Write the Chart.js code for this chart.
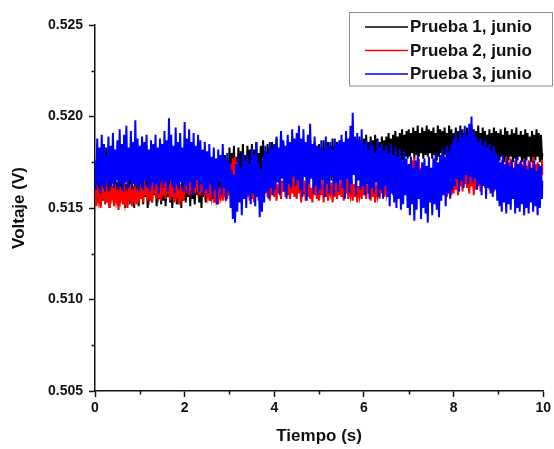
<!DOCTYPE html>
<html>
<head>
<meta charset="utf-8">
<script src="https://cdn.jsdelivr.net/npm/chart.js@4.4.1/dist/chart.umd.min.js"></script>
<style>
  html, body { margin: 0; padding: 0; background: #fff; }
  #wrap { width: 554px; height: 449px; position: relative; }
</style>
</head>
<body>
<div id="wrap"><canvas id="c" width="554" height="449"></canvas></div>
<script>
// Voltage readings, sampled every 0.025 s over 10 s
const FONT = '"Liberation Sans", Arial, Helvetica, sans-serif';
const etiquetas = ['Prueba 1, junio', 'Prueba 2, junio', 'Prueba 3, junio'];
const colores = ['#000000', '#ff0000', '#0000ff'];
const pasoTiempo = 0.025;

const prueba1 = [
  0.5165, 0.5152, 0.5168, 0.5155, 0.5170, 0.5151, 0.5163, 0.5154, 0.5169, 0.5157,
  0.5183, 0.5153, 0.5166, 0.5150, 0.5171, 0.5156, 0.5162, 0.5152, 0.5167, 0.5155,
  0.5164, 0.5151, 0.5170, 0.5156, 0.5166, 0.5153, 0.5172, 0.5150, 0.5163, 0.5155,
  0.5168, 0.5152, 0.5171, 0.5157, 0.5162, 0.5150, 0.5169, 0.5154, 0.5166, 0.5151,
  0.5170, 0.5155, 0.5164, 0.5152, 0.5172, 0.5156, 0.5167, 0.5150, 0.5163, 0.5154,
  0.5171, 0.5153, 0.5165, 0.5157, 0.5169, 0.5151, 0.5164, 0.5155, 0.5170, 0.5152,
  0.5166, 0.5154, 0.5172, 0.5151, 0.5163, 0.5156, 0.5170, 0.5153, 0.5168, 0.5150,
  0.5165, 0.5155, 0.5171, 0.5152, 0.5167, 0.5157, 0.5162, 0.5150, 0.5169, 0.5154,
  0.5172, 0.5153, 0.5165, 0.5156, 0.5170, 0.5151, 0.5171, 0.5155, 0.5166, 0.5152,
  0.5169, 0.5157, 0.5164, 0.5153, 0.5172, 0.5150, 0.5168, 0.5156, 0.5165, 0.5153,
  0.5172, 0.5156, 0.5169, 0.5154, 0.5175, 0.5158, 0.5171, 0.5153, 0.5177, 0.5157,
  0.5170, 0.5155, 0.5176, 0.5160, 0.5173, 0.5156, 0.5179, 0.5159, 0.5174, 0.5157,
  0.5183, 0.5163, 0.5180, 0.5165, 0.5184, 0.5161, 0.5178, 0.5166, 0.5183, 0.5162,
  0.5181, 0.5167, 0.5185, 0.5164, 0.5179, 0.5162, 0.5184, 0.5166, 0.5182, 0.5163,
  0.5185, 0.5165, 0.5182, 0.5167, 0.5186, 0.5163, 0.5180, 0.5168, 0.5184, 0.5165,
  0.5187, 0.5166, 0.5181, 0.5164, 0.5185, 0.5169, 0.5183, 0.5165, 0.5186, 0.5167,
  0.5184, 0.5166, 0.5188, 0.5168, 0.5182, 0.5165, 0.5191, 0.5169, 0.5186, 0.5167,
  0.5183, 0.5170, 0.5187, 0.5166, 0.5185, 0.5168, 0.5189, 0.5165, 0.5184, 0.5169,
  0.5182, 0.5165, 0.5186, 0.5168, 0.5183, 0.5164, 0.5187, 0.5169, 0.5181, 0.5166,
  0.5185, 0.5163, 0.5188, 0.5167, 0.5182, 0.5165, 0.5186, 0.5168, 0.5184, 0.5166,
  0.5185, 0.5167, 0.5183, 0.5165, 0.5187, 0.5169, 0.5182, 0.5166, 0.5186, 0.5168,
  0.5184, 0.5165, 0.5188, 0.5170, 0.5183, 0.5167, 0.5186, 0.5166, 0.5185, 0.5169,
  0.5187, 0.5168, 0.5184, 0.5171, 0.5188, 0.5167, 0.5185, 0.5170, 0.5189, 0.5168,
  0.5184, 0.5172, 0.5187, 0.5169, 0.5186, 0.5171, 0.5189, 0.5168, 0.5185, 0.5170,
  0.5188, 0.5171, 0.5190, 0.5173, 0.5186, 0.5170, 0.5189, 0.5174, 0.5187, 0.5172,
  0.5190, 0.5171, 0.5188, 0.5173, 0.5186, 0.5170, 0.5189, 0.5174, 0.5187, 0.5172,
  0.5189, 0.5173, 0.5191, 0.5175, 0.5188, 0.5172, 0.5190, 0.5176, 0.5192, 0.5174,
  0.5189, 0.5177, 0.5191, 0.5175, 0.5193, 0.5176, 0.5190, 0.5178, 0.5192, 0.5177,
  0.5193, 0.5178, 0.5191, 0.5180, 0.5194, 0.5177, 0.5192, 0.5179, 0.5195, 0.5178,
  0.5191, 0.5180, 0.5194, 0.5177, 0.5192, 0.5179, 0.5195, 0.5178, 0.5193, 0.5180,
  0.5192, 0.5177, 0.5194, 0.5179, 0.5191, 0.5176, 0.5195, 0.5178, 0.5193, 0.5180,
  0.5192, 0.5177, 0.5194, 0.5179, 0.5191, 0.5178, 0.5195, 0.5177, 0.5193, 0.5179,
  0.5191, 0.5178, 0.5194, 0.5176, 0.5192, 0.5179, 0.5195, 0.5177, 0.5193, 0.5178,
  0.5191, 0.5180, 0.5194, 0.5177, 0.5192, 0.5179, 0.5195, 0.5176, 0.5193, 0.5178,
  0.5192, 0.5177, 0.5195, 0.5179, 0.5191, 0.5176, 0.5194, 0.5178, 0.5192, 0.5177,
  0.5190, 0.5179, 0.5193, 0.5176, 0.5191, 0.5178, 0.5194, 0.5177, 0.5192, 0.5175,
  0.5191, 0.5176, 0.5193, 0.5178, 0.5190, 0.5175, 0.5194, 0.5177, 0.5192, 0.5176,
  0.5190, 0.5178, 0.5193, 0.5175, 0.5191, 0.5177, 0.5194, 0.5176, 0.5190, 0.5178,
  0.5192, 0.5175, 0.5190, 0.5177, 0.5193, 0.5176, 0.5191, 0.5178, 0.5189, 0.5175,
  0.5192, 0.5177, 0.5190, 0.5176, 0.5193, 0.5178, 0.5191, 0.5175, 0.5190, 0.5177,
  0.5180
];

const prueba2 = [
  0.5160, 0.5151, 0.5163, 0.5154, 0.5158, 0.5150, 0.5164, 0.5155, 0.5161, 0.5152,
  0.5165, 0.5153, 0.5159, 0.5150, 0.5162, 0.5156, 0.5160, 0.5151, 0.5163, 0.5154,
  0.5158, 0.5149, 0.5162, 0.5155, 0.5160, 0.5152, 0.5164, 0.5153, 0.5157, 0.5150,
  0.5161, 0.5154, 0.5163, 0.5151, 0.5159, 0.5155, 0.5162, 0.5152, 0.5158, 0.5153,
  0.5163, 0.5155, 0.5161, 0.5153, 0.5166, 0.5157, 0.5162, 0.5154, 0.5165, 0.5156,
  0.5160, 0.5153, 0.5167, 0.5158, 0.5163, 0.5155, 0.5166, 0.5157, 0.5161, 0.5154,
  0.5165, 0.5157, 0.5162, 0.5155, 0.5167, 0.5158, 0.5163, 0.5154, 0.5166, 0.5156,
  0.5161, 0.5153, 0.5164, 0.5157, 0.5160, 0.5152, 0.5163, 0.5155, 0.5159, 0.5154,
  0.5162, 0.5170, 0.5158, 0.5164, 0.5157, 0.5166, 0.5160, 0.5165, 0.5158, 0.5167,
  0.5161, 0.5164, 0.5159, 0.5166, 0.5157, 0.5163, 0.5160, 0.5168, 0.5158, 0.5162,
  0.5157, 0.5164, 0.5154, 0.5161, 0.5156, 0.5163, 0.5153, 0.5160, 0.5155, 0.5162,
  0.5152, 0.5159, 0.5156, 0.5164, 0.5154, 0.5161, 0.5157, 0.5165, 0.5155, 0.5162,
  0.5166, 0.5174, 0.5165, 0.5177, 0.5164, 0.5178, 0.5166, 0.5175, 0.5163, 0.5172,
  0.5160, 0.5168, 0.5157, 0.5165, 0.5155, 0.5163, 0.5156, 0.5162, 0.5154, 0.5161,
  0.5155, 0.5163, 0.5153, 0.5161, 0.5156, 0.5165, 0.5154, 0.5162, 0.5157, 0.5166,
  0.5155, 0.5163, 0.5158, 0.5167, 0.5156, 0.5162, 0.5154, 0.5164, 0.5157, 0.5165,
  0.5156, 0.5164, 0.5154, 0.5163, 0.5158, 0.5167, 0.5155, 0.5165, 0.5159, 0.5168,
  0.5156, 0.5164, 0.5157, 0.5166, 0.5155, 0.5163, 0.5158, 0.5167, 0.5156, 0.5165,
  0.5155, 0.5166, 0.5158, 0.5164, 0.5153, 0.5162, 0.5157, 0.5165, 0.5154, 0.5163,
  0.5156, 0.5167, 0.5155, 0.5161, 0.5153, 0.5164, 0.5157, 0.5166, 0.5155, 0.5162,
  0.5154, 0.5163, 0.5157, 0.5165, 0.5153, 0.5162, 0.5156, 0.5166, 0.5154, 0.5161,
  0.5158, 0.5164, 0.5153, 0.5162, 0.5156, 0.5167, 0.5155, 0.5163, 0.5157, 0.5165,
  0.5156, 0.5164, 0.5154, 0.5163, 0.5158, 0.5167, 0.5155, 0.5161, 0.5157, 0.5166,
  0.5154, 0.5163, 0.5156, 0.5165, 0.5153, 0.5162, 0.5157, 0.5164, 0.5155, 0.5163,
  0.5157, 0.5165, 0.5155, 0.5163, 0.5158, 0.5166, 0.5154, 0.5162, 0.5156, 0.5164,
  0.5153, 0.5161, 0.5157, 0.5165, 0.5155, 0.5163, 0.5158, 0.5167, 0.5156, 0.5162,
  0.5158, 0.5166, 0.5156, 0.5164, 0.5159, 0.5168, 0.5157, 0.5166, 0.5160, 0.5170,
  0.5158, 0.5167, 0.5161, 0.5171, 0.5159, 0.5169, 0.5162, 0.5173, 0.5160, 0.5171,
  0.5163, 0.5174, 0.5161, 0.5176, 0.5165, 0.5178, 0.5162, 0.5175, 0.5166, 0.5177,
  0.5161, 0.5172, 0.5163, 0.5174, 0.5160, 0.5171, 0.5164, 0.5173, 0.5161, 0.5169,
  0.5159, 0.5170, 0.5157, 0.5168, 0.5160, 0.5172, 0.5158, 0.5167, 0.5161, 0.5171,
  0.5157, 0.5166, 0.5159, 0.5169, 0.5156, 0.5165, 0.5158, 0.5168, 0.5157, 0.5166,
  0.5158, 0.5168, 0.5160, 0.5170, 0.5157, 0.5167, 0.5162, 0.5172, 0.5159, 0.5171,
  0.5163, 0.5173, 0.5161, 0.5172, 0.5158, 0.5169, 0.5162, 0.5170, 0.5157, 0.5166,
  0.5160, 0.5172, 0.5162, 0.5175, 0.5159, 0.5177, 0.5163, 0.5174, 0.5161, 0.5171,
  0.5164, 0.5176, 0.5160, 0.5173, 0.5162, 0.5175, 0.5159, 0.5170, 0.5163, 0.5172,
  0.5161, 0.5174, 0.5163, 0.5176, 0.5160, 0.5173, 0.5165, 0.5178, 0.5162, 0.5175,
  0.5166, 0.5177, 0.5161, 0.5172, 0.5164, 0.5176, 0.5160, 0.5173, 0.5163, 0.5175,
  0.5162, 0.5174, 0.5164, 0.5177, 0.5161, 0.5173, 0.5165, 0.5176, 0.5163, 0.5172,
  0.5166, 0.5178, 0.5162, 0.5174, 0.5164, 0.5175, 0.5161, 0.5173, 0.5165, 0.5176,
  0.5168
];

const prueba3 = [
  0.5176, 0.5160, 0.5188, 0.5163, 0.5183, 0.5158, 0.5190, 0.5162, 0.5185, 0.5159,
  0.5179, 0.5164, 0.5189, 0.5160, 0.5184, 0.5163, 0.5191, 0.5161, 0.5182, 0.5165,
  0.5187, 0.5160, 0.5193, 0.5163, 0.5185, 0.5159, 0.5190, 0.5164, 0.5195, 0.5161,
  0.5183, 0.5165, 0.5192, 0.5160, 0.5186, 0.5163, 0.5198, 0.5162, 0.5188, 0.5159,
  0.5184, 0.5163, 0.5189, 0.5160, 0.5186, 0.5165, 0.5190, 0.5161, 0.5182, 0.5159,
  0.5187, 0.5164, 0.5185, 0.5160, 0.5190, 0.5163, 0.5183, 0.5158, 0.5188, 0.5165,
  0.5185, 0.5161, 0.5192, 0.5164, 0.5187, 0.5159, 0.5199, 0.5165, 0.5190, 0.5162,
  0.5184, 0.5158, 0.5194, 0.5163, 0.5186, 0.5160, 0.5191, 0.5164, 0.5183, 0.5159,
  0.5197, 0.5162, 0.5188, 0.5158, 0.5193, 0.5164, 0.5186, 0.5157, 0.5191, 0.5161,
  0.5184, 0.5165, 0.5190, 0.5159, 0.5187, 0.5163, 0.5182, 0.5157, 0.5186, 0.5160,
  0.5181, 0.5158, 0.5185, 0.5163, 0.5178, 0.5155, 0.5183, 0.5160, 0.5176, 0.5152,
  0.5182, 0.5164, 0.5179, 0.5157, 0.5185, 0.5161, 0.5177, 0.5154, 0.5180, 0.5159,
  0.5175, 0.5150, 0.5171, 0.5144, 0.5168, 0.5142, 0.5174, 0.5148, 0.5178, 0.5153,
  0.5172, 0.5146, 0.5180, 0.5155, 0.5176, 0.5150, 0.5179, 0.5157, 0.5174, 0.5152,
  0.5183, 0.5158, 0.5179, 0.5151, 0.5186, 0.5156, 0.5175, 0.5145, 0.5171, 0.5148,
  0.5178, 0.5153, 0.5184, 0.5159, 0.5180, 0.5155, 0.5186, 0.5161, 0.5182, 0.5157,
  0.5185, 0.5160, 0.5189, 0.5164, 0.5183, 0.5157, 0.5192, 0.5166, 0.5187, 0.5159,
  0.5184, 0.5155, 0.5190, 0.5163, 0.5186, 0.5161, 0.5193, 0.5168, 0.5188, 0.5162,
  0.5191, 0.5165, 0.5195, 0.5160, 0.5188, 0.5156, 0.5193, 0.5167, 0.5186, 0.5154,
  0.5190, 0.5163, 0.5196, 0.5166, 0.5185, 0.5158, 0.5189, 0.5162, 0.5184, 0.5157,
  0.5183, 0.5160, 0.5187, 0.5166, 0.5181, 0.5156, 0.5189, 0.5163, 0.5184, 0.5158,
  0.5186, 0.5168, 0.5182, 0.5157, 0.5188, 0.5164, 0.5185, 0.5159, 0.5187, 0.5165,
  0.5190, 0.5161, 0.5186, 0.5155, 0.5192, 0.5166, 0.5188, 0.5158, 0.5195, 0.5163,
  0.5202, 0.5168, 0.5189, 0.5157, 0.5191, 0.5165, 0.5187, 0.5160, 0.5193, 0.5162,
  0.5185, 0.5157, 0.5187, 0.5163, 0.5182, 0.5155, 0.5186, 0.5161, 0.5184, 0.5158,
  0.5180, 0.5164, 0.5187, 0.5156, 0.5183, 0.5160, 0.5185, 0.5155, 0.5181, 0.5162,
  0.5184, 0.5156, 0.5180, 0.5151, 0.5185, 0.5158, 0.5179, 0.5153, 0.5183, 0.5150,
  0.5178, 0.5155, 0.5182, 0.5149, 0.5176, 0.5152, 0.5181, 0.5157, 0.5177, 0.5150,
  0.5174, 0.5146, 0.5178, 0.5152, 0.5172, 0.5143, 0.5176, 0.5149, 0.5179, 0.5155,
  0.5171, 0.5144, 0.5175, 0.5150, 0.5177, 0.5147, 0.5173, 0.5142, 0.5178, 0.5153,
  0.5172, 0.5146, 0.5177, 0.5152, 0.5180, 0.5149, 0.5175, 0.5145, 0.5179, 0.5154,
  0.5182, 0.5157, 0.5178, 0.5151, 0.5184, 0.5158, 0.5181, 0.5155, 0.5185, 0.5160,
  0.5188, 0.5162, 0.5191, 0.5166, 0.5186, 0.5159, 0.5193, 0.5165, 0.5189, 0.5161,
  0.5195, 0.5168, 0.5190, 0.5163, 0.5196, 0.5167, 0.5200, 0.5164, 0.5192, 0.5166,
  0.5189, 0.5160, 0.5186, 0.5163, 0.5188, 0.5157, 0.5184, 0.5162, 0.5187, 0.5155,
  0.5183, 0.5161, 0.5185, 0.5158, 0.5181, 0.5156, 0.5184, 0.5160, 0.5180, 0.5154,
  0.5178, 0.5151, 0.5175, 0.5148, 0.5179, 0.5153, 0.5174, 0.5147, 0.5177, 0.5152,
  0.5173, 0.5149, 0.5176, 0.5155, 0.5172, 0.5147, 0.5178, 0.5150, 0.5174, 0.5148,
  0.5176, 0.5152, 0.5173, 0.5146, 0.5177, 0.5150, 0.5171, 0.5147, 0.5175, 0.5153,
  0.5172, 0.5148, 0.5176, 0.5151, 0.5170, 0.5146, 0.5174, 0.5150, 0.5173, 0.5155,
  0.5165
];

const series = [prueba1, prueba2, prueba3];
const tiempo = prueba1.map((_, i) => +(i * pasoTiempo).toFixed(3));

// Axis ranges and tick steps (majors every 2 s / 0.005 V, minors halfway)
const xMin = 0, xMax = 10, xPaso = 1;
const yMin = 0.505, yMax = 0.525, yPaso = 0.0025;

const isMajorX = v => Math.round(v) % 2 === 0;
const isMajorY = v => Math.round(v * 10000) % 50 === 0;

// Short minor tick marks drawn outside the axes
const minorTicks = {
  id: 'minorTicks',
  afterDraw(chart) {
    const {ctx} = chart;
    const xs = chart.scales.x, ys = chart.scales.y;
    ctx.save();
    ctx.strokeStyle = '#111';
    ctx.lineWidth = 1.5;
    ctx.beginPath();
    xs.ticks.forEach(t => {
      if (!isMajorX(t.value)) {
        const px = Math.round(xs.getPixelForValue(t.value)) + 0.5;
        ctx.moveTo(px, xs.top);
        ctx.lineTo(px, xs.top + 3.5);
      }
    });
    ys.ticks.forEach(t => {
      if (!isMajorY(t.value)) {
        const py = Math.round(ys.getPixelForValue(t.value)) + 0.5;
        ctx.moveTo(ys.right, py);
        ctx.lineTo(ys.right - 3.5, py);
      }
    });
    ctx.stroke();
    ctx.restore();
  }
};

// Framed legend in the upper right corner
const framedLegend = {
  id: 'framedLegend',
  afterDraw(chart) {
    const {ctx} = chart;
    const box = {x: 349.5, y: 12.5, w: 203, h: 73.5};
    ctx.save();
    ctx.fillStyle = '#ffffff';
    ctx.fillRect(box.x, box.y, box.w, box.h);
    ctx.strokeStyle = '#8c8c8c';
    ctx.lineWidth = 1;
    ctx.strokeRect(box.x, box.y, box.w, box.h);
    ctx.font = 'bold 17px ' + FONT;
    ctx.textBaseline = 'middle';
    ctx.textAlign = 'left';
    chart.data.datasets.forEach((ds, i) => {
      const cy = 27 + i * 23.5;
      ctx.strokeStyle = ds.borderColor;
      ctx.lineWidth = 1.6;
      ctx.beginPath();
      ctx.moveTo(365, cy);
      ctx.lineTo(408, cy);
      ctx.stroke();
      ctx.fillStyle = '#111';
      ctx.fillText(ds.label, 410, cy + 0.5);
    });
    ctx.restore();
  }
};

const datasets = series.map((s, i) => ({
  label: etiquetas[i],
  data: s.map((v, j) => ({x: tiempo[j], y: v})),
  borderColor: colores[i],
  backgroundColor: colores[i],
  borderWidth: 2,
  pointRadius: 0,
  tension: 0,
  fill: false,
  order: series.length - i
}));

new Chart(document.getElementById('c'), {
  type: 'line',
  data: {datasets},
  options: {
    responsive: false,
    animation: false,
    events: [],
    layout: {padding: {top: 25, right: 9, left: 0, bottom: 0}},
    plugins: {legend: {display: false}, tooltip: {enabled: false}},
    scales: {
      x: {
        type: 'linear',
        min: xMin, max: xMax,
        afterFit(scale) { scale.height = 58; },
        border: {display: true, color: '#111', width: 1.5},
        grid: {
          drawOnChartArea: false, drawTicks: true, tickLength: 6, tickWidth: 1.5,
          tickColor: c => isMajorX(c.tick.value) ? '#111' : 'rgba(0,0,0,0)'
        },
        ticks: {
          stepSize: xPaso, autoSkip: false, maxRotation: 0, padding: 3,
          color: '#111', font: {family: FONT, size: 14, weight: 'bold'},
          callback: v => isMajorX(v) ? String(v) : ''
        },
        title: {
          display: true, text: 'Tiempo (s)', color: '#111',
          font: {family: FONT, size: 17, weight: 'bold'},
          padding: {top: 4, bottom: 2}
        }
      },
      y: {
        type: 'linear',
        min: yMin, max: yMax,
        afterFit(scale) { scale.width = 95; },
        border: {display: true, color: '#111', width: 1.5},
        grid: {
          drawOnChartArea: false, drawTicks: true, tickLength: 6, tickWidth: 1.5,
          tickColor: c => isMajorY(c.tick.value) ? '#111' : 'rgba(0,0,0,0)'
        },
        ticks: {
          stepSize: yPaso, autoSkip: false, padding: 6,
          color: '#111', font: {family: FONT, size: 14, weight: 'bold'},
          callback: v => isMajorY(v) ? v.toFixed(3) : ''
        },
        title: {
          display: true, text: 'Voltaje (V)', color: '#111',
          font: {family: FONT, size: 17, weight: 'bold'},
          padding: {top: 9, bottom: 4}
        }
      }
    }
  },
  plugins: [minorTicks, framedLegend]
});
</script>
</body>
</html>
